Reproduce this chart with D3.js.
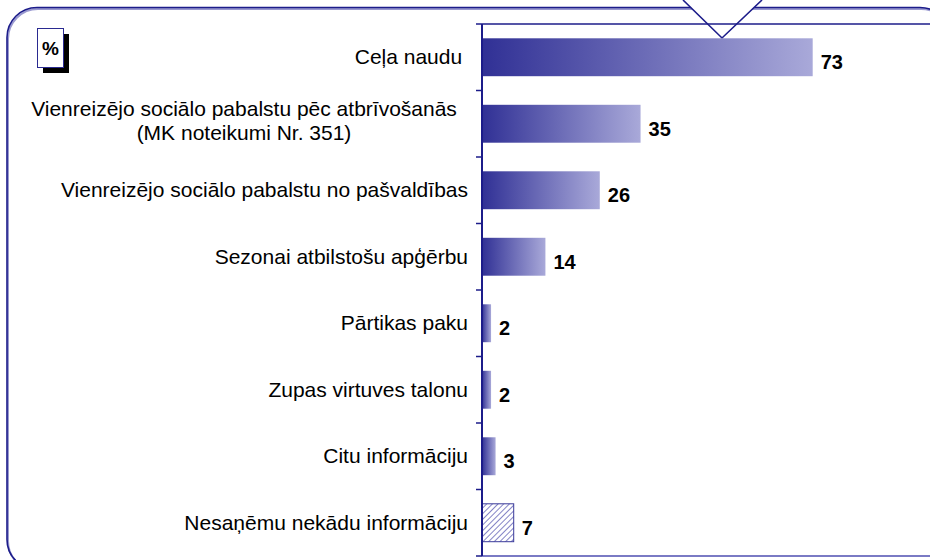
<!DOCTYPE html>
<html>
<head>
<meta charset="utf-8">
<script src="https://cdn.jsdelivr.net/npm/d3@7/dist/d3.min.js"></script>
<style>
  body { margin: 0; background: #fff; }
  text { font-family: Arial, "Liberation Sans", sans-serif; }
</style>
</head>
<body>
<div id="chart"></div>
<script>
// data
var categories = [
  "Ceļa naudu ",
  "Vienreizējo sociālo pabalstu pēc atbrīvošanās\n(MK noteikumi Nr. 351)",
  "Vienreizējo sociālo pabalstu no pašvaldības",
  "Sezonai atbilstošu apģērbu",
  "Pārtikas paku",
  "Zupas virtuves talonu",
  "Citu informāciju",
  "Nesaņēmu nekādu informāciju"
];
var values = [73, 35, 26, 14, 2, 2, 3, 7];
var hatched = [false, false, false, false, false, false, false, true];
var unitLabel = "%";

var W = 930, H = 560;
var plot = {left: 482, top: 24, right: 935, bottom: 556};

var svg = d3.select("#chart")
  .append("svg")
    .attr("width", W)
    .attr("height", H);

var defs = svg.append("defs");

// horizontal gradient used on every bar
var grad = defs.append("linearGradient")
  .attr("id", "barGrad")
  .attr("x1", 0).attr("x2", 1).attr("y1", 0).attr("y2", 0);
grad.append("stop").attr("offset", 0).attr("stop-color", "#303095");
grad.append("stop").attr("offset", 1).attr("stop-color", "#a9a9d9");

// hatch for the "nothing received" bar
var hatch = defs.append("pattern")
  .attr("id", "hatch")
  .attr("patternUnits", "userSpaceOnUse")
  .attr("width", 4).attr("height", 4)
  .attr("patternTransform", "rotate(45)");
hatch.append("rect").attr("width", 4).attr("height", 4).attr("fill", "#fff");
hatch.append("line")
  .attr("x1", 0).attr("y1", 0).attr("x2", 0).attr("y2", 4)
  .attr("stroke", "#6464b8").attr("stroke-width", 1.6);

// outer rounded frame (runs off the right and bottom edge)
svg.append("rect")
  .attr("x", 8).attr("y", 9)
  .attr("width", 943).attr("height", 562)
  .attr("rx", 30)
  .attr("fill", "none")
  .attr("stroke", "#9a9ad0")
  .attr("stroke-width", 2);
svg.append("rect")
  .attr("x", 7).attr("y", 7.5)
  .attr("width", 943).attr("height", 562)
  .attr("rx", 30)
  .attr("fill", "none")
  .attr("stroke", "#1c1c8a")
  .attr("stroke-width", 1.6);

// notch at the top
svg.append("path")
  .attr("d", "M683,0 L722,38 L762,0")
  .attr("fill", "#fff")
  .attr("stroke", "#1c1c8a")
  .attr("stroke-width", 1.6);

// % box with shadow
svg.append("rect").attr("x", 43).attr("y", 34).attr("width", 26).attr("height", 39).attr("fill", "#000");
svg.append("rect").attr("x", 37.5).attr("y", 28.5).attr("width", 26).attr("height", 39)
  .attr("fill", "#fff").attr("stroke", "#2a2a90").attr("stroke-width", 1);
svg.append("text")
  .attr("x", 50.5).attr("y", 55)
  .attr("text-anchor", "middle")
  .attr("font-size", 19).attr("font-weight", "bold")
  .text(unitLabel);

// scales
var x = d3.scaleLinear()
  .domain([0, 100])
  .range([plot.left, plot.right]);

var y = d3.scaleBand()
  .domain(categories)
  .range([plot.top, plot.bottom])
  .paddingInner(0.43)
  .paddingOuter(0.215);

// plot border lines
svg.append("line")
  .attr("x1", plot.left).attr("x2", W).attr("y1", plot.top).attr("y2", plot.top)
  .attr("stroke", "#1c1c8a").attr("stroke-width", 1.5);
svg.append("line")
  .attr("x1", plot.left).attr("x2", W).attr("y1", plot.bottom).attr("y2", plot.bottom)
  .attr("stroke", "#7a7ac4").attr("stroke-width", 2);

// bars
var data = categories.map(function(c, i) { return {cat: c, val: values[i], hatch: hatched[i]}; });

svg.selectAll("rect.bar")
  .data(data)
  .enter()
  .append("rect")
    .attr("class", "bar")
    .attr("x", x(0))
    .attr("y", function(d) { return y(d.cat); })
    .attr("width", function(d) { return x(d.val) - x(0); })
    .attr("height", y.bandwidth())
    .attr("fill", function(d) { return d.hatch ? "url(#hatch)" : "url(#barGrad)"; })
    .attr("stroke", function(d) { return d.hatch ? "#3a3a9a" : "none"; })
    .attr("stroke-width", 1);

// value labels
svg.selectAll("text.val")
  .data(data)
  .enter()
  .append("text")
    .attr("class", "val")
    .attr("x", function(d) { return x(d.val) + 8; })
    .attr("y", function(d) { return y(d.cat) + y.bandwidth() / 2 + 12; })
    .attr("font-size", 20)
    .attr("font-weight", "bold")
    .attr("fill", "#000")
    .text(function(d) { return d.val; });

// y axis: line + ticks between categories, labels drawn separately
var yAxis = svg.append("g")
  .attr("transform", "translate(" + plot.left + ",0)");
yAxis.append("line")
  .attr("y1", plot.top).attr("y2", plot.bottom)
  .attr("stroke", "#1c1c8a").attr("stroke-width", 2);
var tickYs = d3.range(categories.length + 1).map(function(i) {
  return plot.top + i * y.step();
});
yAxis.selectAll("line.tick")
  .data(tickYs)
  .enter()
  .append("line")
    .attr("class", "tick")
    .attr("x1", -6).attr("x2", 0)
    .attr("y1", function(d) { return d; }).attr("y2", function(d) { return d; })
    .attr("stroke", "#1c1c8a").attr("stroke-width", 1.5);

// category labels
var lab = svg.selectAll("text.cat")
  .data(data)
  .enter()
  .append("text")
    .attr("class", "cat")
    .attr("font-size", 21)
    .attr("fill", "#000");

lab.each(function(d) {
  var lines = d.cat.split("\n");
  var t = d3.select(this);
  var cy = y(d.cat) + y.bandwidth() / 2;
  if (lines.length === 1) {
    t.attr("x", 468).attr("y", cy + 7).attr("text-anchor", "end")
      .attr("xml:space", "preserve").text(lines[0]);
  } else {
    t.attr("text-anchor", "middle");
    lines.forEach(function(l, k) {
      t.append("tspan")
        .attr("x", 244)
        .attr("y", cy - 8 + k * 24)
        .text(l);
    });
  }
});
</script>
</body>
</html>
